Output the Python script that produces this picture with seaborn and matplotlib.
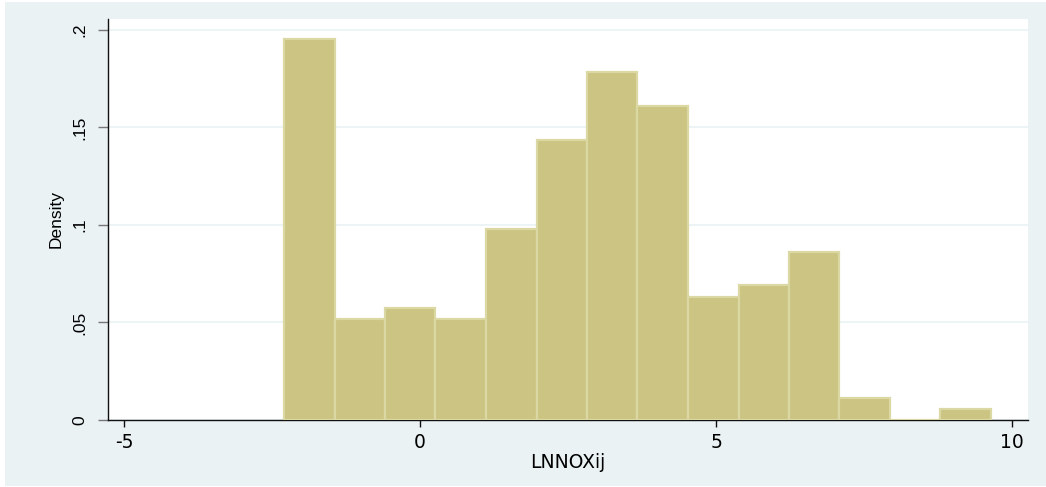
import numpy as np
import pandas as pd
import seaborn as sns
import matplotlib.pyplot as plt
from matplotlib.patches import Rectangle

# Histogram of LNNOXij: bin edges and bar heights (density)
bin_edges = [-2.30, -1.44, -0.59, 0.26, 1.11, 1.97, 2.82, 3.67,
             4.53, 5.38, 6.23, 7.08, 7.94, 8.79, 9.64]
density = [0.1955, 0.0517, 0.0575, 0.0517, 0.0977, 0.1437, 0.1782,
           0.1610, 0.0632, 0.0690, 0.0862, 0.0115, 0.0, 0.0057]

x_ticks = [-5, 0, 5, 10]
x_tick_labels = ["-5", "0", "5", "10"]
y_ticks = [0, 0.05, 0.10, 0.15, 0.20]
y_tick_labels = ["0", ".05", ".1", ".15", ".2"]

mids = [(a + b) / 2 for a, b in zip(bin_edges[:-1], bin_edges[1:])]
df = pd.DataFrame({"LNNOXij": mids, "Density": density})

sns.set_theme(style="white")
plt.rcParams['font.family'] = ['Liberation Sans', 'DejaVu Sans']
wide_font = ['DejaVu Sans']

W, H = 1046, 487
fig = plt.figure(figsize=(W / 100, H / 100), dpi=100, facecolor="white")

# light graph-region background
fig.patches.append(Rectangle((5 / W, 1 / H), (W - 5) / W, (485 - 1) / H,
                             transform=fig.transFigure, facecolor="#EAF2F3",
                             edgecolor="none", zorder=-10))

ax = fig.add_axes([108 / W, 67 / H, 920 / W, 401 / H])
ax.set_facecolor("white")

sns.histplot(data=df, x="LNNOXij", weights="Density", bins=bin_edges,
             stat="count", color="#CBC482", edgecolor="#DCD8A3",
             linewidth=1.6, alpha=1, ax=ax, zorder=3)

ax.set_xlim(-5.27, 10.27)
ax.set_ylim(0, 0.2056)

ax.set_xticks(x_ticks)
ax.set_xticklabels(x_tick_labels, family=wide_font, fontsize=13.5)
ax.set_yticks(y_ticks)
ax.set_yticklabels(y_tick_labels, rotation=90, va="center", fontsize=12.5)

ax.yaxis.grid(True, color="#EAF2F3", linewidth=1.2, zorder=0)
ax.xaxis.grid(False)
ax.set_axisbelow(True)

for s in ["top", "right"]:
    ax.spines[s].set_visible(False)
for s in ["left", "bottom"]:
    ax.spines[s].set_color("#111111")
    ax.spines[s].set_linewidth(1.0)

ax.tick_params(axis="x", which="major", direction="out", length=5,
               width=1.0, color="#111111", pad=4,
               labelcolor="black", bottom=True)
ax.tick_params(axis="y", which="major", direction="out", length=7,
               width=1.0, color="#777777", pad=8,
               labelcolor="black", left=True)

ax.set_xlabel("LNNOXij", family=wide_font, fontsize=13.5, color="black",
              labelpad=1)
ax.set_ylabel("Density", fontsize=12.5, color="black", labelpad=6)

fig.savefig("out.png", dpi=100, facecolor=fig.get_facecolor())
